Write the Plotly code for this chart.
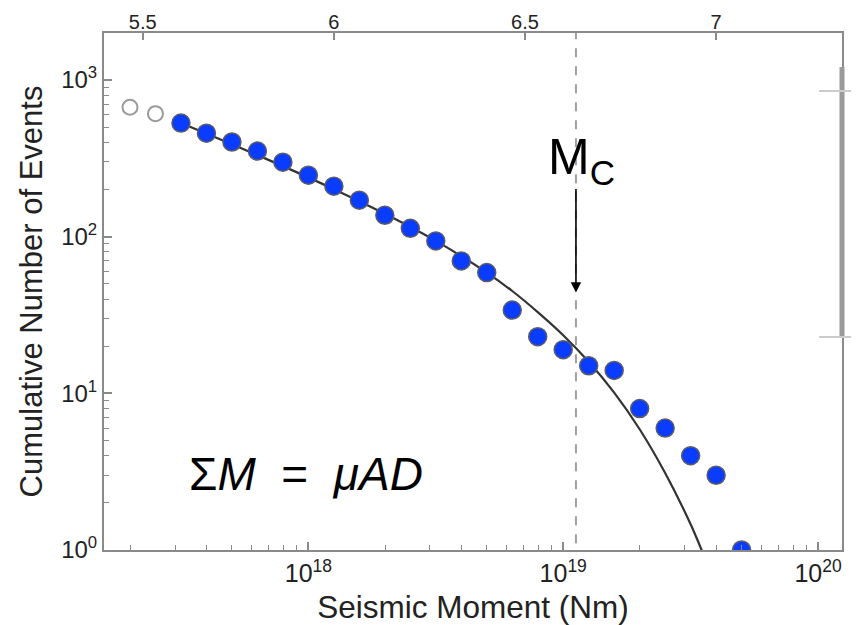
import math
import plotly.graph_objects as go

# ---------------- data ----------------
# log10 of seismic moment (Nm) for each binned point
logM_open = [17.3, 17.4]
N_open = [670, 610]

logM_fill = [17.5, 17.6, 17.7, 17.8, 17.9, 18.0, 18.1, 18.2, 18.3, 18.4, 18.5, 18.6,
             18.7, 18.8, 18.9, 19.0, 19.1, 19.2, 19.3, 19.4, 19.5, 19.6, 19.7]
N_fill = [531, 458, 402, 352, 299, 247, 210, 171, 137, 113, 94, 70,
          59, 34, 23, 19, 15, 14, 8, 6, 4, 3, 1]

# fitted tapered Gutenberg-Richter curve
curve_logM = [17.5, 17.7, 17.9, 18.1, 18.3, 18.5, 18.7, 18.8, 18.9, 19.0,
              19.1, 19.2, 19.3, 19.4, 19.5, 19.55]
curve_N = [531, 389, 282, 201, 140, 94, 59, 45, 33, 23.5,
           15.9, 10.1, 5.9, 3.1, 1.46, 0.94]

Mc_logM = 19.05          # corner moment (dashed line)
arrow_tip_N = 44         # where the Mc arrow points

ytick_vals = [1.0, 10.0, 100.0, 1000.0]
ytick_text = ["10<sup>0</sup>", "10<sup>1</sup>", "10<sup>2</sup>", "10<sup>3</sup>"]
xtick_vals = [1e18, 1e19, 1e20]
xtick_text = ["10<sup>18</sup>", "10<sup>19</sup>", "10<sup>20</sup>"]
mw_tick_vals = [5.5, 6.0, 6.5, 7.0]
mw_tick_text = ["5.5", "6", "6.5", "7"]

# ---------------- figure ----------------
x_range_log = [17.198, 20.094]
mw_range = [2.0 / 3.0 * v - 6.0667 for v in x_range_log]

minor_x = [float(m) * 10.0 ** e for e in range(17, 21) for m in range(2, 10)]
minor_y = [float(m) * 10.0 ** e for e in range(0, 4) for m in range(2, 10)]

FONT = "Liberation Sans, Arial, sans-serif"
AXCOL = "#8a8a8a"
NB = "\u00a0"

fig = go.Figure()

# Mc dashed line
fig.add_trace(go.Scatter(
    x=[10.0 ** Mc_logM, 10.0 ** Mc_logM], y=[0.5, 5000.0], mode="lines",
    line=dict(color="#a0a0a0", width=2, dash="dash"), hoverinfo="skip", showlegend=False))

# fitted curve
fig.add_trace(go.Scatter(
    x=[10.0 ** v for v in curve_logM], y=curve_N, mode="lines",
    line=dict(color="#333333", width=2.2, shape="spline", smoothing=0.8),
    showlegend=False))

# open circles (below completeness)
fig.add_trace(go.Scatter(
    x=[10.0 ** v for v in logM_open], y=N_open, mode="markers",
    marker=dict(size=15, color="white", line=dict(color="#9a9a9a", width=2)),
    showlegend=False))

# filled blue circles
fig.add_trace(go.Scatter(
    x=[10.0 ** v for v in logM_fill], y=N_fill, mode="markers",
    marker=dict(size=18, color="#0a3cff", line=dict(color="#5a5a6a", width=1.5)),
    showlegend=False))

# invisible trace for the top (magnitude) axis
fig.add_trace(go.Scatter(x=mw_range, y=[1.0, 1.0], xaxis="x2", mode="markers",
                         marker=dict(opacity=0), hoverinfo="skip", showlegend=False))

# the page body has an 8px margin, so the figure is offset by 8px
fig.update_layout(
    width=851, height=617,
    margin=dict(l=96, r=17, t=25, b=75, autoexpand=False),
    paper_bgcolor="white", plot_bgcolor="white",
    font=dict(family=FONT, color="#222222"),
    xaxis=dict(
        type="log", range=x_range_log,
        showline=True, linecolor=AXCOL, linewidth=2,
        ticks="inside", ticklen=8, tickcolor=AXCOL, tickwidth=1.5,
        tickmode="array", tickvals=xtick_vals, ticktext=xtick_text,
        tickfont=dict(size=25, color="#222222"),
        minor=dict(tickmode="array", tickvals=minor_x, ticks="inside", ticklen=5,
                   tickcolor=AXCOL, tickwidth=1.2, showgrid=False),
        showgrid=False, zeroline=False, automargin=False,
        title=dict(text="Seismic Moment (Nm)", font=dict(size=31.5, color="#222222"), standoff=16),
    ),
    xaxis2=dict(
        overlaying="x", side="top", range=mw_range,
        showline=True, linecolor=AXCOL, linewidth=2,
        ticks="inside", ticklen=7, tickcolor=AXCOL, tickwidth=1.5,
        tickmode="array", tickvals=mw_tick_vals, ticktext=mw_tick_text,
        tickfont=dict(size=20, color="#222222"), ticklabelstandoff=-6,
        showgrid=False, zeroline=False, automargin=False,
    ),
    yaxis=dict(
        type="log", range=[0, 3.30],
        showline=True, linecolor=AXCOL, linewidth=2, mirror=True,
        ticks="inside", ticklen=8, tickcolor=AXCOL, tickwidth=1.5,
        tickmode="array", tickvals=ytick_vals, ticktext=ytick_text,
        tickfont=dict(size=24, color="#222222"),
        minor=dict(tickmode="array", tickvals=minor_y, ticks="inside", ticklen=5,
                   tickcolor=AXCOL, tickwidth=1.2, showgrid=False),
        showgrid=False, zeroline=False, automargin=False,
        title=dict(text="Cumulative Number of Events", font=dict(size=31, color="#222222"), standoff=9),
    ),
    annotations=[
        dict(xref="x", yref="y", x=Mc_logM, y=math.log10(arrow_tip_N),
             ax=0, ay=-105, axref="pixel", ayref="pixel", text="", showarrow=True,
             arrowhead=2, arrowsize=1.3, arrowwidth=1.6, arrowcolor="black", standoff=0),
        dict(xref="paper", yref="paper", x=(581 - 104) / 738, y=(550 - 160) / 517,
             xanchor="center", yanchor="middle", showarrow=False,
             text="M<sub>C</sub>", font=dict(size=50, color="black", family=FONT)),
        dict(xref="paper", yref="paper", x=(306 - 104) / 738, y=(550 - 474) / 517,
             xanchor="center", yanchor="middle", showarrow=False,
             text="Σ<i>M</i>" + NB + NB + "=" + NB + NB + "<i>μAD</i>",
             font=dict(size=46, color="black", family=FONT)),
    ],
    shapes=[
        dict(type="line", xref="paper", yref="paper", x0=1.0, x1=1.0,
             y0=(550 - 337) / 517, y1=(550 - 67) / 517, line=dict(color="#9a9a9a", width=5)),
        dict(type="line", xref="paper", yref="paper", x0=(819 - 104) / 738, x1=(859 - 104) / 738,
             y0=(550 - 91) / 517, y1=(550 - 91) / 517, line=dict(color="#cccccc", width=2)),
        dict(type="line", xref="paper", yref="paper", x0=(819 - 104) / 738, x1=(859 - 104) / 738,
             y0=(550 - 337) / 517, y1=(550 - 337) / 517, line=dict(color="#cccccc", width=2)),
    ],
)

fig.write_html("out.html")
